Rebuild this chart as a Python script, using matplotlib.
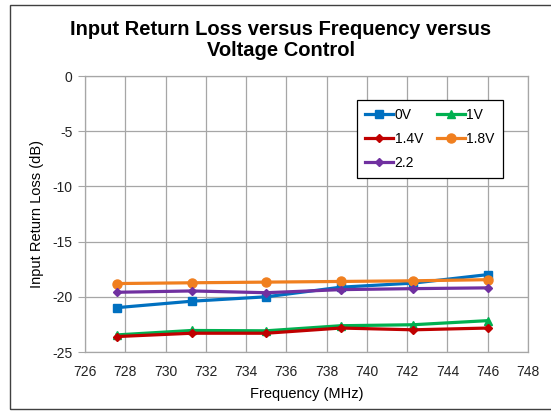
import matplotlib
matplotlib.use("Agg")
import matplotlib.pyplot as plt
from matplotlib.patches import Rectangle

plt.rcParams['font.family'] = ['Liberation Sans', 'DejaVu Sans']
plt.rcParams['axes.unicode_minus'] = False

freq = [727.6, 731.3, 735.0, 738.7, 742.3, 746.0]
s_0v = [-20.98, -20.40, -20.00, -19.13, -18.76, -17.99]
s_1v = [-23.45, -23.05, -23.08, -22.62, -22.53, -22.16]
s_14v = [-23.60, -23.30, -23.30, -22.83, -22.99, -22.83]
s_18v = [-18.80, -18.73, -18.67, -18.61, -18.55, -18.45]
s_22 = [-19.59, -19.47, -19.63, -19.35, -19.26, -19.19]
labels = ["0V", "1V", "1.4V", "1.8V", "2.2"]
xticks = list(range(726, 749, 2))
yticks = [0, -5, -10, -15, -20, -25]

fig = plt.figure(figsize=(5.51, 4.11), dpi=100)
ax = fig.add_axes([85/551, 1-352/411, 443/551, 276/411])

# outer frame
fig.patches.append(Rectangle((10/551, 2/411), 560/551, 404/411, transform=fig.transFigure,
                             fill=False, edgecolor='#404040', linewidth=1.0))

series = [
    (s_0v, '#0070C0', 's', 6),
    (s_1v, '#00B050', '^', 6),
    (s_14v, '#C00000', 'D', 4),
    (s_18v, '#F07F1F', 'o', 6.5),
    (s_22, '#7030A0', 'D', 4),
]
handles = []
for (vals, c, m, ms), lab in zip(series, labels):
    h, = ax.plot(freq, vals, color=c, marker=m, markersize=ms, linewidth=2.3, label=lab, zorder=3)
    handles.append(h)

ax.set_xlim(726, 748)
ax.set_ylim(-25, 0)
ax.set_xticks(xticks)
ax.set_yticks(yticks)
ax.grid(True, color='#A6A6A6', linewidth=0.9)
ax.set_axisbelow(True)
for s in ax.spines.values():
    s.set_color('#A6A6A6')
    s.set_linewidth(0.9)
ax.tick_params(axis='x', length=0, labelsize=10, pad=9, colors='#222222')
ax.tick_params(axis='y', length=5, labelsize=10, color='#A6A6A6', labelcolor='#222222', pad=4)

ax.set_xlabel("Frequency (MHz)", fontsize=10.5, labelpad=6)
ax.set_ylabel("Input Return Loss (dB)", fontsize=10.5, labelpad=6)

fig.text(281/551, 1-40/411, "Input Return Loss versus Frequency versus\nVoltage Control",
         ha='center', va='center', fontsize=14.5, fontweight='bold', linespacing=1.15)

order = [0, 2, 4, 1, 3]
leg = ax.legend([handles[i] for i in order], [labels[i] for i in order],
                loc='upper left', bbox_to_anchor=(0.614, 0.913), ncol=2, fontsize=10,
                frameon=True, fancybox=False, edgecolor='black', framealpha=1,
                handlelength=2.0, handletextpad=0.1, columnspacing=1.0, borderpad=0.6,
                labelspacing=0.7, borderaxespad=0)
leg.get_frame().set_linewidth(0.9)

fig.savefig("out.png", dpi=100)
